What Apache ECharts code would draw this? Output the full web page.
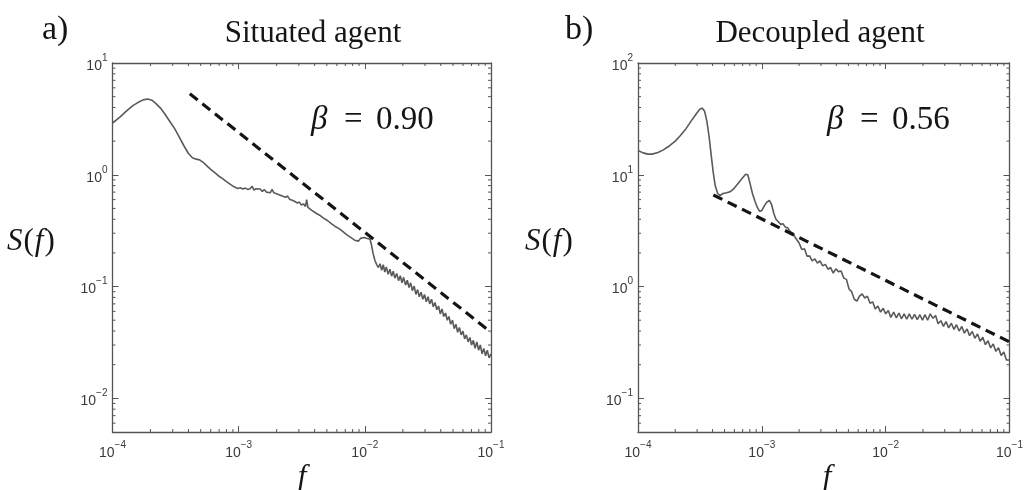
<!DOCTYPE html>
<html><head><meta charset="utf-8">
<script src="https://cdn.jsdelivr.net/npm/echarts@6/dist/echarts.min.js"></script>
<style>html,body{margin:0;padding:0;background:#fff}#c{width:1026px;height:490px}</style>
</head><body><div id="c"></div>
<script>
// ---------- data ----------
const situatedFreq = [
1.0e-4,1.15e-4,1.3e-4,1.45e-4,1.6e-4,1.75e-4,1.9e-4,2.05e-4,2.2e-4,2.4e-4,2.6e-4,2.85e-4,3.1e-4,3.4e-4,3.7e-4,4.0e-4,4.3e-4,4.6e-4,4.9e-4,5.2e-4,5.6e-4,6.0e-4,6.5e-4,7.0e-4,7.5e-4,8.0e-4,8.6e-4,9.2e-4,9.8e-4,
1.03e-3,1.08e-3,1.13e-3,1.18e-3,1.23e-3,1.28e-3,1.32e-3,1.37e-3,1.42e-3,1.48e-3,1.54e-3,1.6e-3,1.66e-3,1.72e-3,1.78e-3,1.84e-3,1.9e-3,1.97e-3,2.04e-3,2.11e-3,2.19e-3,2.27e-3,2.35e-3,2.44e-3,2.53e-3,2.62e-3,2.72e-3,2.82e-3,2.92e-3,3.03e-3,3.14e-3,3.26e-3,3.38e-3,3.46e-3,3.54e-3,3.67e-3,3.8e-3,3.94e-3,4.08e-3,4.23e-3,4.38e-3,4.54e-3,4.7e-3,4.87e-3,5.05e-3,5.23e-3,5.42e-3,5.62e-3,5.82e-3,6.03e-3,6.25e-3,6.48e-3,6.71e-3,6.95e-3,7.2e-3,7.46e-3,7.73e-3,8.01e-3,8.3e-3,8.6e-3,8.91e-3,9.23e-3,9.56e-3,9.9e-3,
1.03e-2,1.06e-2,1.1e-2,1.13e-2,1.16e-2,1.2e-2,1.24e-2,1.28e-2,
0.0132,0.0136,0.0140,0.0144,0.0148,0.0153,0.0158,0.0163,0.0168,0.0173,0.0179,0.0185,0.0191,0.0197,0.0203,0.0210,0.0217,0.0224,0.0231,0.0238,0.0246,0.0254,0.0262,0.0270,0.0279,0.0288,0.0297,0.0307,0.0317,0.0327,0.0338,0.0349,0.0360,0.0372,0.0384,0.0396,0.0409,0.0422,0.0436,0.0450,0.0464,0.0479,0.0495,0.0511,0.0527,0.0544,0.0562,0.0580,0.0599,0.0618,0.0638,0.0659,0.0680,0.0702,0.0725,0.0748,0.0772,0.0797,0.0823,0.0850,0.0877,0.0906,0.0935,0.0965,0.1000
];
const situatedPower = [
2.9,3.3,3.75,4.15,4.45,4.68,4.77,4.65,4.35,3.95,3.5,3.0,2.6,2.15,1.8,1.55,1.42,1.38,1.36,1.3,1.2,1.12,1.04,0.97,0.92,0.87,0.82,0.78,0.755,
0.765,0.745,0.76,0.74,0.75,0.79,0.73,0.75,0.72,0.745,0.71,0.735,0.70,0.725,0.69,0.74,0.69,0.705,0.67,0.685,0.65,0.665,0.63,0.645,0.605,0.62,0.585,0.595,0.56,0.57,0.535,0.55,0.52,0.6,0.51,0.5,0.48,0.49,0.455,0.465,0.435,0.44,0.41,0.42,0.39,0.395,0.365,0.375,0.345,0.355,0.33,0.335,0.31,0.315,0.29,0.3,0.275,0.28,0.26,0.265,0.255,0.27,0.26,0.275,
0.27,0.28,0.265,0.235,0.2,0.172,0.158,0.148,
0.160,0.140,0.157,0.135,0.150,0.129,0.143,0.124,0.137,0.119,0.131,0.113,0.125,0.108,0.121,0.103,0.114,0.098,0.108,0.092,0.101,0.085,0.094,0.081,0.089,0.077,0.085,0.073,0.081,0.070,0.077,0.066,0.072,0.062,0.067,0.057,0.063,0.054,0.058,0.050,0.054,0.046,0.050,0.042,0.046,0.039,0.043,0.037,0.040,0.034,0.037,0.032,0.035,0.030,0.033,0.028,0.032,0.027,0.030,0.025,0.028,0.024,0.027,0.023,0.025
];
const situatedFitFreq = [4.1e-4, 0.1];
const situatedFitPower = [5.3, 0.039];

const decoupledFreq = [
1.0e-4,1.1e-4,1.2e-4,1.3e-4,1.45e-4,1.6e-4,1.8e-4,2.0e-4,2.2e-4,2.45e-4,2.7e-4,2.95e-4,3.15e-4,3.3e-4,3.45e-4,3.6e-4,3.75e-4,3.9e-4,4.05e-4,4.2e-4,4.4e-4,4.6e-4,4.85e-4,5.2e-4,5.6e-4,6.0e-4,6.5e-4,7.0e-4,7.4e-4,7.7e-4,8.0e-4,8.4e-4,8.8e-4,9.2e-4,9.6e-4,
1.0e-3,1.05e-3,1.1e-3,1.15e-3,1.2e-3,1.25e-3,1.3e-3,1.36e-3,1.42e-3,1.48e-3,1.55e-3,1.62e-3,1.7e-3,1.78e-3,1.86e-3,1.93e-3,
2.00e-3,2.10e-3,2.21e-3,2.32e-3,2.43e-3,2.55e-3,2.68e-3,2.81e-3,2.95e-3,3.10e-3,3.26e-3,3.42e-3,3.59e-3,3.77e-3,3.96e-3,4.16e-3,4.37e-3,4.59e-3,4.82e-3,5.06e-3,5.31e-3,5.58e-3,5.86e-3,6.15e-3,6.46e-3,6.78e-3,7.12e-3,7.48e-3,7.85e-3,8.24e-3,8.65e-3,9.09e-3,9.54e-3,
1.00e-2,1.05e-2,1.10e-2,1.16e-2,1.22e-2,1.28e-2,1.34e-2,1.41e-2,1.48e-2,1.55e-2,1.63e-2,1.71e-2,1.80e-2,1.89e-2,1.98e-2,2.08e-2,2.18e-2,2.29e-2,2.41e-2,2.53e-2,2.65e-2,2.79e-2,2.93e-2,3.07e-2,3.23e-2,3.39e-2,3.56e-2,3.73e-2,3.92e-2,4.12e-2,4.32e-2,4.54e-2,4.76e-2,5.00e-2,5.25e-2,5.52e-2,5.79e-2,6.08e-2,6.39e-2,6.70e-2,7.04e-2,7.39e-2,7.76e-2,8.15e-2,8.56e-2,8.99e-2,9.44e-2,1.00e-1
];
const decoupledPower = [
16.5,15.7,15.3,15.3,15.8,16.7,18.2,20,22.5,26,30.5,35,38.5,39.5,37,30,22,15,10.5,8.0,6.8,6.5,6.8,6.9,7.1,7.6,8.5,9.4,10.1,10.0,8.5,6.8,5.8,5.1,4.7,
4.8,5.3,5.7,5.9,5.4,4.5,4.0,3.8,3.6,3.65,3.4,3.35,3.1,3.0,2.75,2.65,
2.45,2.15,2.18,1.87,1.88,1.70,1.77,1.62,1.70,1.53,1.58,1.43,1.48,1.32,1.44,1.36,1.38,1.19,1.16,0.95,0.90,0.77,0.74,0.82,0.86,0.79,0.82,0.71,0.73,0.63,0.67,0.59,0.64,
0.57,0.61,0.53,0.59,0.525,0.58,0.515,0.57,0.51,0.57,0.51,0.565,0.505,0.56,0.50,0.56,0.50,0.57,0.52,0.55,0.465,0.495,0.44,0.485,0.427,0.47,0.414,0.456,0.40,0.44,0.383,0.418,0.364,0.397,0.345,0.376,0.324,0.352,0.302,0.328,0.283,0.307,0.263,0.284,0.242,0.26,0.22,0.22
];
const decoupledFitFreq = [4.06e-4, 0.1];
const decoupledFitPower = [6.6, 0.32];

const panelTitles = ['Situated agent', 'Decoupled agent'];
const panelLetters = ['a)', 'b)'];
const betaValues = ['0.90', '0.56'];
const xRange = [1e-4, 1e-1];
const yRangeLeft = [0.005, 10];
const yRangeRight = [0.05, 100];

// ---------- helpers ----------
const zip = (a, b) => a.map((v, i) => [v, b[i]]);
function expLabel(v) {
  const e = Math.log10(v), r = Math.round(e);
  if (Math.abs(e - r) > 1e-6) return '';
  return '{b|10}{s|' + (r < 0 ? '\u2212' + (-r) : r) + '}';
}
const labelRich = {
  b: { fontFamily: 'Liberation Sans', fontSize: 14, color: '#3a3a3a', lineHeight: 20, verticalAlign: 'bottom' },
  s: { fontFamily: 'Liberation Sans', fontSize: 10, color: '#3a3a3a', lineHeight: 20, verticalAlign: 'top' }
};
function minorValues(lo, hi) {
  const out = [];
  for (let k = Math.floor(Math.log10(lo)); k <= Math.ceil(Math.log10(hi)); k++)
    for (let m = 2; m <= 9; m++) { const v = m * Math.pow(10, k); if (v > lo * 1.0001 && v < hi * 0.9999) out.push(v); }
  return out;
}
const frameColor = '#555555';
function xAxesFor(g) {
  const base = { gridIndex: g, type: 'log', logBase: 10, min: xRange[0], max: xRange[1],
    splitLine: { show: false }, axisLine: { show: true, onZero: false, lineStyle: { color: frameColor, width: 1.3 } },
    axisTick: { show: true, inside: true, length: 6, lineStyle: { color: frameColor } } };
  return [
    Object.assign({}, base, { position: 'bottom', axisLabel: { show: true, margin: 8, formatter: expLabel, rich: labelRich } }),
    Object.assign({}, base, { position: 'top', axisLabel: { show: false } })
  ];
}
function yAxesFor(g, r) {
  const base = { gridIndex: g, type: 'log', logBase: 10, min: r[0], max: r[1],
    splitLine: { show: false }, axisLine: { show: true, onZero: false, lineStyle: { color: frameColor, width: 1.3 } },
    axisTick: { show: true, inside: true, length: 6, lineStyle: { color: frameColor } } };
  return [
    Object.assign({}, base, { position: 'left', axisLabel: { show: true, margin: 5, formatter: expLabel, rich: labelRich } }),
    Object.assign({}, base, { position: 'right', axisLabel: { show: false } })
  ];
}
function minorTicks(axisIdx, dir, values, xr, yr) {
  return {
    type: 'custom', xAxisIndex: axisIdx, yAxisIndex: axisIdx, silent: true, clip: false, z: 3,
    data: values.map(v => dir === 'x' ? [v, yr[0]] : [xr[0], v]),
    renderItem: function (params, api) {
      const v = api.value(dir === 'x' ? 0 : 1);
      const L = 3, st = { stroke: frameColor, lineWidth: 1 };
      if (dir === 'x') {
        const a = api.coord([v, yr[0]]), b = api.coord([v, yr[1]]);
        return { type: 'group', children: [
          { type: 'line', shape: { x1: a[0], y1: a[1], x2: a[0], y2: a[1] - L }, style: st },
          { type: 'line', shape: { x1: b[0], y1: b[1], x2: b[0], y2: b[1] + L }, style: st } ] };
      } else {
        const a = api.coord([xr[0], v]), b = api.coord([xr[1], v]);
        return { type: 'group', children: [
          { type: 'line', shape: { x1: a[0], y1: a[1], x2: a[0] + L, y2: a[1] }, style: st },
          { type: 'line', shape: { x1: b[0], y1: b[1], x2: b[0] - L, y2: b[1] }, style: st } ] };
      }
    }
  };
}
const curveStyle = { color: '#5a5a5e', width: 1.6 };
const fitStyle = { color: '#141414', width: 3.2, type: [10, 6] };

const serif = '"Liberation Serif", "DejaVu Serif", serif';
function txt(x, y, text, size, opts) {
  return Object.assign({ type: 'text', x: x, y: y, silent: true,
    style: { text: text, font: (opts && opts.italic ? 'italic ' : '') + size + 'px ' + serif, fill: '#151515',
      align: (opts && opts.align) || 'left', verticalAlign: 'middle' } });
}
function sOfF(x, y) {
  return { type: 'text', x: x, y: y, silent: true,
    style: { text: '{i|S}{r|(}{i|f}{r|)}', align: 'left', verticalAlign: 'middle',
      rich: { i: { font: 'italic 31px ' + serif, fill: '#151515', padding: [0, 1, 0, 1] },
              r: { font: '31px ' + serif, fill: '#151515' } } } };
}

const chart = echarts.init(document.getElementById('c'), null, { renderer: 'canvas' });
chart.setOption({
  animation: false,
  backgroundColor: '#ffffff',
  grid: [
    { left: 112.5, top: 63, width: 378.5, height: 369 },
    { left: 638, top: 63, width: 378, height: 369 }
  ],
  xAxis: [].concat(xAxesFor(0), xAxesFor(1)),
  yAxis: [].concat(yAxesFor(0, yRangeLeft), yAxesFor(1, yRangeRight)),
  series: [
    { type: 'line', xAxisIndex: 0, yAxisIndex: 0, data: zip(situatedFreq, situatedPower), showSymbol: false, lineStyle: curveStyle, z: 4 },
    { type: 'line', xAxisIndex: 0, yAxisIndex: 0, data: zip(situatedFitFreq, situatedFitPower), showSymbol: false, lineStyle: fitStyle, z: 5 },
    { type: 'line', xAxisIndex: 2, yAxisIndex: 2, data: zip(decoupledFreq, decoupledPower), showSymbol: false, lineStyle: curveStyle, z: 4 },
    { type: 'line', xAxisIndex: 2, yAxisIndex: 2, data: zip(decoupledFitFreq, decoupledFitPower), showSymbol: false, lineStyle: fitStyle, z: 5 },
    minorTicks(0, 'x', minorValues(xRange[0], xRange[1]), xRange, yRangeLeft),
    minorTicks(0, 'y', minorValues(yRangeLeft[0], yRangeLeft[1]), xRange, yRangeLeft),
    minorTicks(2, 'x', minorValues(xRange[0], xRange[1]), xRange, yRangeRight),
    minorTicks(2, 'y', minorValues(yRangeRight[0], yRangeRight[1]), xRange, yRangeRight)
  ],
  graphic: [
    txt(42, 30, panelLetters[0], 34),
    txt(313, 34, panelTitles[0], 31, { align: 'center' }),
    txt(565, 30, panelLetters[1], 34),
    txt(820, 34, panelTitles[1], 31, { align: 'center' }),
    txt(311, 120, '\u03b2', 33, { italic: true }),
    txt(344, 120, '=', 33),
    txt(376, 120, betaValues[0], 33),
    txt(827, 120, '\u03b2', 33, { italic: true }),
    txt(860, 120, '=', 33),
    txt(892, 120, betaValues[1], 33),
    sOfF(6, 242),
    sOfF(524, 242),
    txt(302, 478, 'f', 31, { italic: true, align: 'center' }),
    txt(827, 478, 'f', 31, { italic: true, align: 'center' })
  ]
});
</script></body></html>
